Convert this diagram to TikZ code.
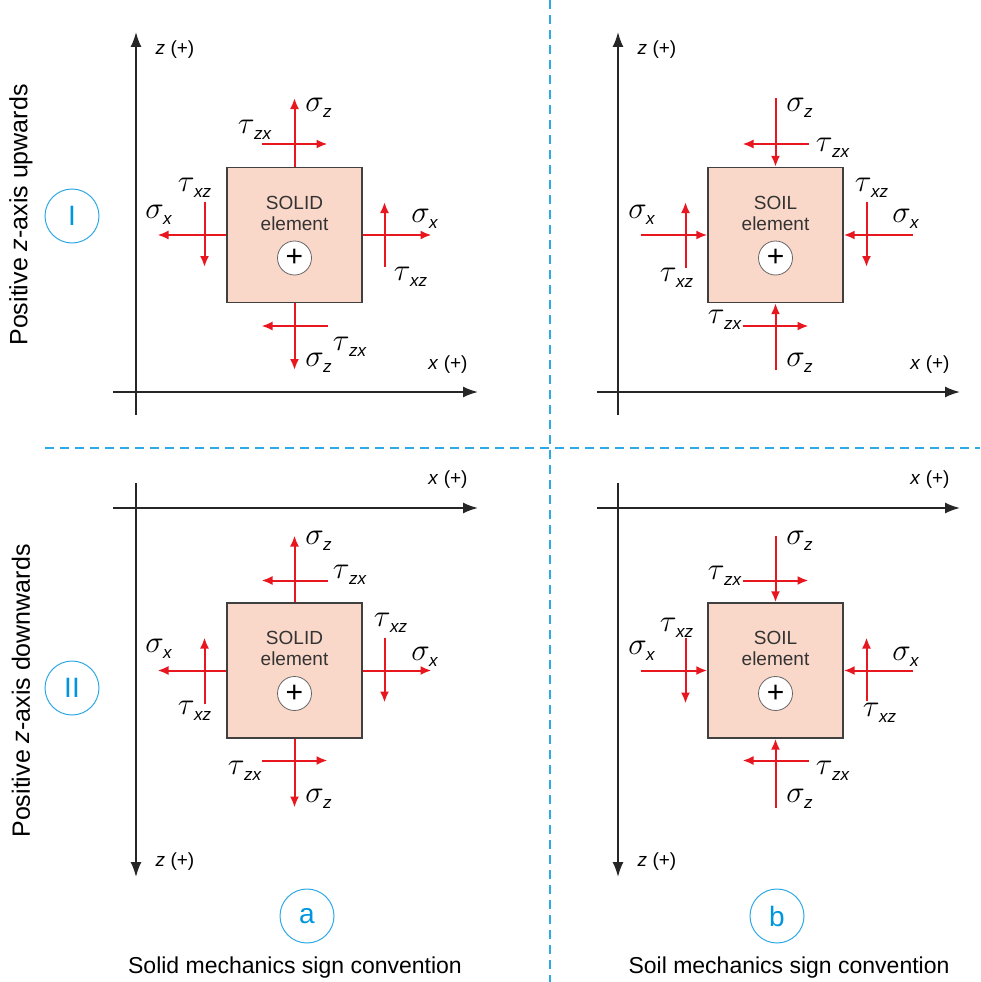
\documentclass[tikz,border=0pt]{standalone}
\usepackage{graphicx}
\usepackage{fontspec}
\setmainfont{Liberation Sans}
\usetikzlibrary{arrows.meta}
\usetikzlibrary{positioning}

\definecolor{stressred}{RGB}{232,22,30}
\definecolor{elemfill}{RGB}{250,216,201}
\definecolor{divblue}{RGB}{45,170,230}
\definecolor{tagblue}{RGB}{0,150,222}

% greek letter with sans italic index
\newcommand{\stresslbl}[2]{\scalebox{1.25}{$#1$}\kern-0.5pt\raisebox{-6pt}{\fontsize{17}{17}\selectfont\itshape #2}}

\tikzset{
    stress/.style={draw=stressred, line width=2pt, -{Latex[length=11pt,width=9pt]}},
    axis/.style={draw=black!85, line width=1.7pt, -{Latex[length=15pt,width=11pt]}},
    element/.style={draw=black!75, fill=elemfill, line width=1.4pt, minimum size=135pt, inner sep=0pt},
    signmark/.style={circle, draw=black!60, fill=white, line width=0.8pt, minimum size=34pt, inner sep=0pt,
        font=\fontsize{30}{30}\selectfont},
    tag/.style={circle, draw=divblue, line width=1pt, minimum size=54pt, inner sep=0pt, text=tagblue,
        font=\fontsize{28}{28}\selectfont},
    divider/.style={draw=divblue, line width=1.6pt, dash pattern=on 9pt off 6pt},
    sym/.style={font=\fontsize{24}{24}\selectfont, inner sep=0pt},
    axlabel/.style={font=\fontsize{19}{19}\selectfont, inner sep=0pt},
    eltext/.style={font=\fontsize{19}{21}\selectfont, text=black!80, align=center, inner sep=0pt},
}

\begin{document}
\begin{tikzpicture}[x=1pt, y=-1pt]
\useasboundingbox (0,0) rectangle (980,982);

% dividers
\draw[divider] (550,0) -- (550,982);
\draw[divider] (45,448) -- (980,448);

% row titles and case tags
\node[rotate=90, font=\fontsize{25}{25}\selectfont] (upI) at (21,215) {Positive \textit{z}-axis upwards};
\node[rotate=90, font=\fontsize{25}{25}\selectfont] (downII) at (21,691) {Positive \textit{z}-axis downwards};
\node[tag] (tagI) at (72,216) {I};
\node[tag] (tagII) at (72,688) {II};
\node[tag] (taga) at (307,916) {a};
\node[tag] (tagb) at (777,916) {b};
\node[font=\fontsize{23}{23}\selectfont] (capa) at (295,968) {Solid mechanics sign convention};
\node[font=\fontsize{23}{23}\selectfont] (capb) at (789,968) {Soil mechanics sign convention};

% axes, z up
\draw[axis] (136,415) -- (136,32);
\draw[axis] (113,392) -- (478,392);
\node[axlabel] (zIa) at (175,50) {\textit{z} (+)};
\node[axlabel] (xIa) at (448,365) {\textit{x} (+)};
\draw[axis] (618,415) -- (618,32);
\draw[axis] (597,392) -- (960,392);
\node[axlabel] (zIb) at (657,50) {\textit{z} (+)};
\node[axlabel] (xIb) at (930,365) {\textit{x} (+)};

% axes, z down
\draw[axis] (113,508) -- (478,508);
\draw[axis] (136,483) -- (136,877);
\node[axlabel] (xIIa) at (448,480) {\textit{x} (+)};
\node[axlabel] (zIIa) at (175,862) {\textit{z} (+)};
\draw[axis] (597,508) -- (960,508);
\draw[axis] (618,483) -- (618,877);
\node[axlabel] (xIIb) at (930,480) {\textit{x} (+)};
\node[axlabel] (zIIb) at (657,862) {\textit{z} (+)};

% solid element, z up
\begin{scope}[shift={(294.5,235)}]
\node[element] (solidI) at (0,0) {};
\node[eltext] (solidIt) at (0,-22) {SOLID\\element};
\node[signmark] (solidIs) at (0,23) {+};
\draw[stress] (solidI.north) -- (0,-137);
\draw[stress] (-33,-91) -- (33,-91);
\draw[stress] (solidI.west) -- (-137,0);
\draw[stress] (-90,-33) -- (-90,32);
\draw[stress] (solidI.east) -- (137,0);
\draw[stress] (90,32) -- (90,-33);
\draw[stress] (solidI.south) -- (0,135);
\draw[stress] (33,91) -- (-33,91);
\node[sym] (szIa) at (24,-127) {\stresslbl{\sigma}{z}};
\node[sym] (tzxIa) at (-40,-105) {\stresslbl{\tau}{zx}};
\node[sym] (sxIa) at (-136,-20) {\stresslbl{\sigma}{x}};
\node[sym] (txzIa) at (-100,-47) {\stresslbl{\tau}{xz}};
\node[sym] (sxIa2) at (130,-16) {\stresslbl{\sigma}{x}};
\node[sym] (txzIa2) at (116,42) {\stresslbl{\tau}{xz}};
\node[sym] (tzxIa2) at (55,112) {\stresslbl{\tau}{zx}};
\node[sym] (szIa2) at (24,128) {\stresslbl{\sigma}{z}};
\end{scope}

% soil element, z up
\begin{scope}[shift={(775.5,235)}]
\node[element] (soilI) at (0,0) {};
\node[eltext] (soilIt) at (0,-22) {SOIL\\element};
\node[signmark] (soilIs) at (0,23) {+};
\draw[stress] (0,-137) -- (soilI.north);
\draw[stress] (33,-91) -- (-33,-91);
\draw[stress] (-135,0) -- (soilI.west);
\draw[stress] (-90,33) -- (-90,-33);
\draw[stress] (137,0) -- (soilI.east);
\draw[stress] (91,-33) -- (91,32);
\draw[stress] (0,135) -- (soilI.south);
\draw[stress] (-33,91) -- (33,91);
\node[sym] (szIb) at (24,-127) {\stresslbl{\sigma}{z}};
\node[sym] (tzxIb) at (57,-87) {\stresslbl{\tau}{zx}};
\node[sym] (sxIb) at (-134,-20) {\stresslbl{\sigma}{x}};
\node[sym] (txzIb) at (-99,43) {\stresslbl{\tau}{xz}};
\node[sym] (txzIb2) at (96,-47) {\stresslbl{\tau}{xz}};
\node[sym] (sxIb2) at (130,-16) {\stresslbl{\sigma}{x}};
\node[sym] (tzxIb2) at (-51,85) {\stresslbl{\tau}{zx}};
\node[sym] (szIb2) at (24,128) {\stresslbl{\sigma}{z}};
\end{scope}

% solid element, z down
\begin{scope}[shift={(294.5,670.5)}]
\node[element] (solidII) at (0,0) {};
\node[eltext] (solidIIt) at (0,-22) {SOLID\\element};
\node[signmark] (solidIIs) at (0,23) {+};
\draw[stress] (solidII.north) -- (0,-135);
\draw[stress] (33,-90) -- (-33,-90);
\draw[stress] (solidII.west) -- (-137,0);
\draw[stress] (-90,33) -- (-90,-33);
\draw[stress] (solidII.east) -- (137,0);
\draw[stress] (90,-33) -- (90,32);
\draw[stress] (solidII.south) -- (0,137);
\draw[stress] (-33,90) -- (33,90);
\node[sym] (szIIa) at (24,-130) {\stresslbl{\sigma}{z}};
\node[sym] (tzxIIa) at (55,-96) {\stresslbl{\tau}{zx}};
\node[sym] (sxIIa) at (-136,-22) {\stresslbl{\sigma}{x}};
\node[sym] (txzIIa) at (-100,40) {\stresslbl{\tau}{xz}};
\node[sym] (txzIIa2) at (96,-48) {\stresslbl{\tau}{xz}};
\node[sym] (sxIIa2) at (130,-14) {\stresslbl{\sigma}{x}};
\node[sym] (tzxIIa2) at (-50,100) {\stresslbl{\tau}{zx}};
\node[sym] (szIIa2) at (24,128) {\stresslbl{\sigma}{z}};
\end{scope}

% soil element, z down
\begin{scope}[shift={(775.5,670.5)}]
\node[element] (soilII) at (0,0) {};
\node[eltext] (soilIIt) at (0,-22) {SOIL\\element};
\node[signmark] (soilIIs) at (0,23) {+};
\draw[stress] (0,-135) -- (soilII.north);
\draw[stress] (-33,-90) -- (33,-90);
\draw[stress] (-135,0) -- (soilII.west);
\draw[stress] (-90,-33) -- (-90,33);
\draw[stress] (137,0) -- (soilII.east);
\draw[stress] (91,30) -- (91,-33);
\draw[stress] (0,137) -- (soilII.south);
\draw[stress] (33,90) -- (-33,90);
\node[sym] (szIIb) at (24,-130) {\stresslbl{\sigma}{z}};
\node[sym] (tzxIIb) at (-51,-95) {\stresslbl{\tau}{zx}};
\node[sym] (sxIIb) at (-134,-20) {\stresslbl{\sigma}{x}};
\node[sym] (txzIIb) at (-99,-43) {\stresslbl{\tau}{xz}};
\node[sym] (sxIIb2) at (130,-14) {\stresslbl{\sigma}{x}};
\node[sym] (txzIIb2) at (104,42) {\stresslbl{\tau}{xz}};
\node[sym] (tzxIIb2) at (57,100) {\stresslbl{\tau}{zx}};
\node[sym] (szIIb2) at (24,128) {\stresslbl{\sigma}{z}};
\end{scope}
\end{tikzpicture}
\end{document}
